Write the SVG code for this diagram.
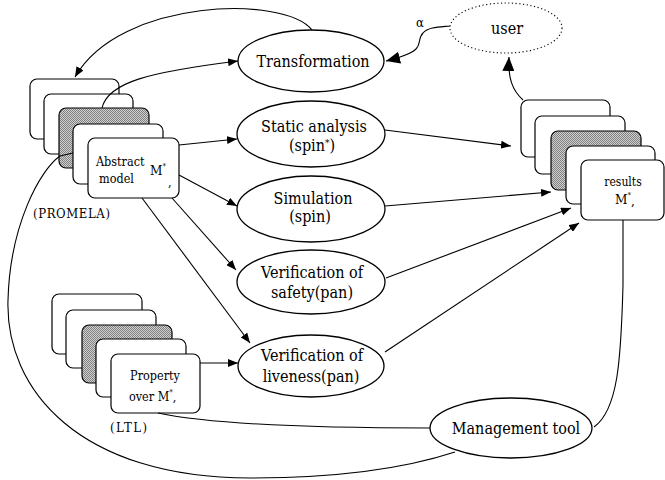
<svg xmlns="http://www.w3.org/2000/svg" width="665" height="480" viewBox="0 0 665 480">
<style>
text{font-family:"DejaVu Serif Condensed","DejaVu Serif",serif;fill:#000}
.lbl{font-size:16px;text-anchor:middle}
.sm{font-size:12.5px}
.el{fill:#fff;stroke:#000;stroke-width:1.3}
.card{fill:#fff;stroke:#000;stroke-width:1.2}
.gray{fill:url(#dots);stroke:#000;stroke-width:1.2}
.c{fill:none;stroke:#000;stroke-width:1.1}
</style>
<defs>
<pattern id="dots" width="2" height="2" patternUnits="userSpaceOnUse">
<rect width="2" height="2" fill="#d0d0d0"/>
<rect width="1" height="1" fill="#808080"/>
<rect x="1" y="1" width="1" height="1" fill="#808080"/>
</pattern>
<marker id="arr" markerUnits="userSpaceOnUse" markerWidth="10" markerHeight="8" refX="10" refY="4" orient="auto"><path d="M0,0 L10,4 L0,8 z" fill="#000"/></marker>
<marker id="arrB" markerUnits="userSpaceOnUse" markerWidth="14" markerHeight="12" refX="14" refY="6" orient="auto"><path d="M0,0 L14,6 L0,12 z" fill="#000"/></marker>
</defs>
<rect width="665" height="480" fill="#fff"/>

<g id="model-stack">
<rect class="card" x="30" y="79" width="89" height="60" rx="7"/>
<rect class="card" x="44" y="94" width="89" height="60" rx="7"/>
<rect class="gray" x="59" y="108" width="90" height="60" rx="7"/>
<rect class="card" x="73" y="124" width="90" height="60" rx="7"/>
<rect class="card" x="88" y="138" width="91" height="60" rx="7"/>
<text class="sm" x="96" y="166">Abstract</text>
<text class="sm" x="99" y="183">model</text>
<text x="150" y="175" font-size="13.5">M<tspan font-size="8" dy="-6">*</tspan></text>
<text class="sm" x="168" y="186">,</text>
<text x="33" y="218" font-size="13" textLength="77">(PROMELA)</text>
</g>

<g id="property-stack">
<rect class="card" x="52" y="294" width="90" height="60" rx="7"/>
<rect class="card" x="66" y="310" width="90" height="58" rx="7"/>
<rect class="gray" x="82" y="325" width="90" height="58" rx="7"/>
<rect class="card" x="96" y="339" width="90" height="58" rx="7"/>
<rect class="card" x="111" y="354" width="89" height="59" rx="7"/>
<text class="sm" x="155" y="380" text-anchor="middle">Property</text>
<text class="sm" x="129" y="401">over M<tspan font-size="8" dy="-6">*</tspan><tspan dy="6">,</tspan></text>
<text x="110" y="432" font-size="13" textLength="37">(LTL)</text>
</g>

<g id="results-stack">
<rect class="card" x="521" y="100" width="89" height="57" rx="7"/>
<rect class="card" x="535" y="116" width="90" height="58" rx="7"/>
<rect class="gray" x="551" y="131" width="90" height="59" rx="7"/>
<rect class="card" x="566" y="146" width="89" height="58" rx="7"/>
<rect class="card" x="581" y="160" width="83" height="60" rx="7"/>
<text x="623" y="186" font-size="12" text-anchor="middle">results</text>
<text x="615" y="204" font-size="13.5">M<tspan font-size="8" dy="-6">*</tspan><tspan dy="7">,</tspan></text>
</g>

<g id="connectors">
<path class="c" d="M312,30 C285,-5 120,-2 75,77" marker-end="url(#arr)"/>
<path class="c" d="M102,108 C108,82 150,72 238,61" marker-end="url(#arr)"/>
<path class="c" d="M450,26 C440,27 428,27 423,33 C418,38 421,44 416,49 C411,54 402,57 386,61" marker-end="url(#arrB)"/>
<path class="c" d="M523,100 C512,90 508,78 509,57" marker-end="url(#arrB)"/>
<path class="c" d="M179,145 L237,139" marker-end="url(#arr)"/>
<path class="c" d="M179,175 L237,206" marker-end="url(#arr)"/>
<path class="c" d="M172,198 L236,270" marker-end="url(#arr)"/>
<path class="c" d="M142,198 L250,343" marker-end="url(#arr)"/>
<path class="c" d="M200,363 L238,363" marker-end="url(#arr)"/>
<path class="c" d="M385,130 L511,146" marker-end="url(#arr)"/>
<path class="c" d="M385,206 L551,192" marker-end="url(#arr)"/>
<path class="c" d="M386,278 L571,208" marker-end="url(#arr)"/>
<path class="c" d="M385,352 L579,223" marker-end="url(#arr)"/>
<path class="c" d="M623,220 L623,285 C621,360 618,410 594,427"/>
<path class="c" d="M158,413 C210,424 300,428 430,428"/>
<path class="c" d="M455,452 C400,470 330,478 250,478 C80,478 5,390 8,300 C10,225 40,170 60,156 L73,153"/>
</g>

<g id="transformation"><ellipse class="el" cx="311" cy="61" rx="73" ry="31"/><text class="lbl" x="313" y="67">Transformation</text></g>
<g id="static"><ellipse class="el" cx="311" cy="134" rx="74" ry="33"/><text class="lbl" x="314" y="132">Static analysis</text><text class="lbl" x="312" y="151">(spin<tspan font-size="10" dy="-5">*</tspan><tspan dy="5">)</tspan></text></g>
<g id="simulation"><ellipse class="el" cx="311" cy="209" rx="74" ry="33"/><text class="lbl" x="313" y="204">Simulation</text><text class="lbl" x="310" y="222">(spin)</text></g>
<g id="safety"><ellipse class="el" cx="311" cy="282" rx="74" ry="32"/><text class="lbl" x="312" y="278">Verification of</text><text class="lbl" x="312" y="298">safety(pan)</text></g>
<g id="liveness"><ellipse class="el" cx="311" cy="366" rx="73" ry="31"/><text class="lbl" x="312" y="361">Verification of</text><text class="lbl" x="311" y="382">liveness(pan)</text></g>
<g id="management"><ellipse class="el" cx="511" cy="428" rx="81" ry="30"/><text class="lbl" x="516" y="434">Management tool</text></g>
<g id="user"><ellipse cx="506" cy="28" rx="56" ry="25" fill="none" stroke="#000" stroke-width="1.1" stroke-dasharray="1.2 2.5"/><text class="lbl" x="507" y="34">user</text></g>
<text x="416" y="27" font-size="13">α</text>
</svg>
